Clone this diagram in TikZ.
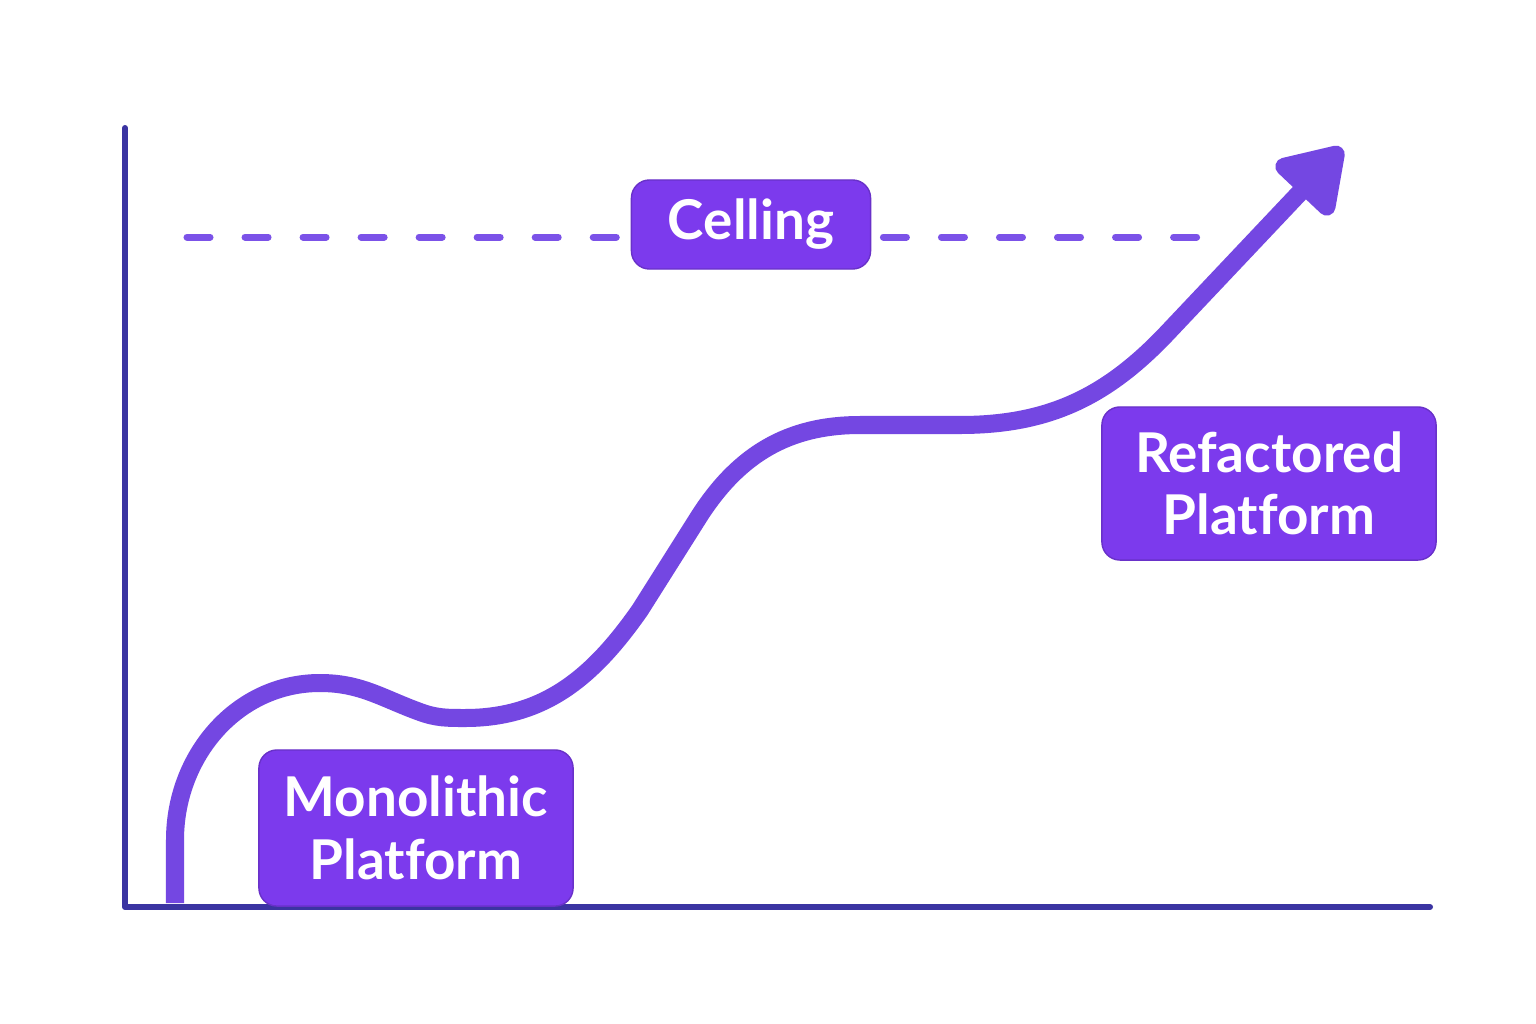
\documentclass[tikz,border=0pt]{standalone}
\usepackage{fontspec}
\setmainfont{Lato}[Ligatures=NoCommon]
\usepackage{xcolor}
\usetikzlibrary{arrows.meta}
\definecolor{axisblue}{HTML}{3B34A2}
\definecolor{boxviolet}{HTML}{7C3AED}
\definecolor{curveviolet}{HTML}{7447E2}
\definecolor{dashviolet}{HTML}{7B52E8}

\begin{document}
\begin{tikzpicture}[x=0.01cm, y=0.01cm,
  box/.style={draw=boxviolet!85!black, line width=0.4pt, fill=boxviolet, rounded corners=0.18cm, align=center,
    text=white, font=\fontsize{15.6}{17.8}\selectfont\bfseries, inner sep=0pt},
  axis/.style={draw=axisblue, line width=0.06cm, line cap=round, line join=round},
  ceilingline/.style={draw=dashviolet, line width=0.07cm, line cap=round, dash pattern=on 0.23cm off 0.35cm},
  growth/.style={draw=curveviolet, line width=0.18cm, -{Triangle[length=0.7cm, width=0.86cm, round]}}
]
  \useasboundingbox[fill=white] (0,0) rectangle (1536,-1024);

  % axes
  \coordinate (ytop) at (125,-128);
  \coordinate (origin) at (125,-907);
  \coordinate (xend) at (1430,-907);
  \draw[axis] (ytop) -- (origin) -- (xend);

  % ceiling
  \coordinate (dleft) at (187,-237);
  \coordinate (dright) at (1197,-237);
  \draw[ceilingline] (dleft) -- (dright);

  % growth curve
  \coordinate (start) at (175,-903);
  \coordinate (tip) at (1342,-148);
  \draw[growth] (start) -- (175,-840) to[out=90,in=180] (320,-683)
    to[out=0,in=160] (420,-712) to[out=-20,in=180] (465,-718)
    to[out=0,in=-125] (640,-610) -- (700,-515)
    to[out=57,in=180] (860,-425) -- (960,-425)
    to[out=0,in=-133] (1170,-330) -- (tip);

  \node[box, minimum width=2.39cm, minimum height=0.89cm] (ceiling) at (751,-224.5) {Celling};
  \node[box, minimum width=3.34cm, minimum height=1.53cm] (refactored) at (1269,-483.5) {Refactored\\Platform};
  \node[box, minimum width=3.14cm, minimum height=1.56cm] (monolith) at (416,-828) {Monolithic\\Platform};
\end{tikzpicture}
\end{document}
